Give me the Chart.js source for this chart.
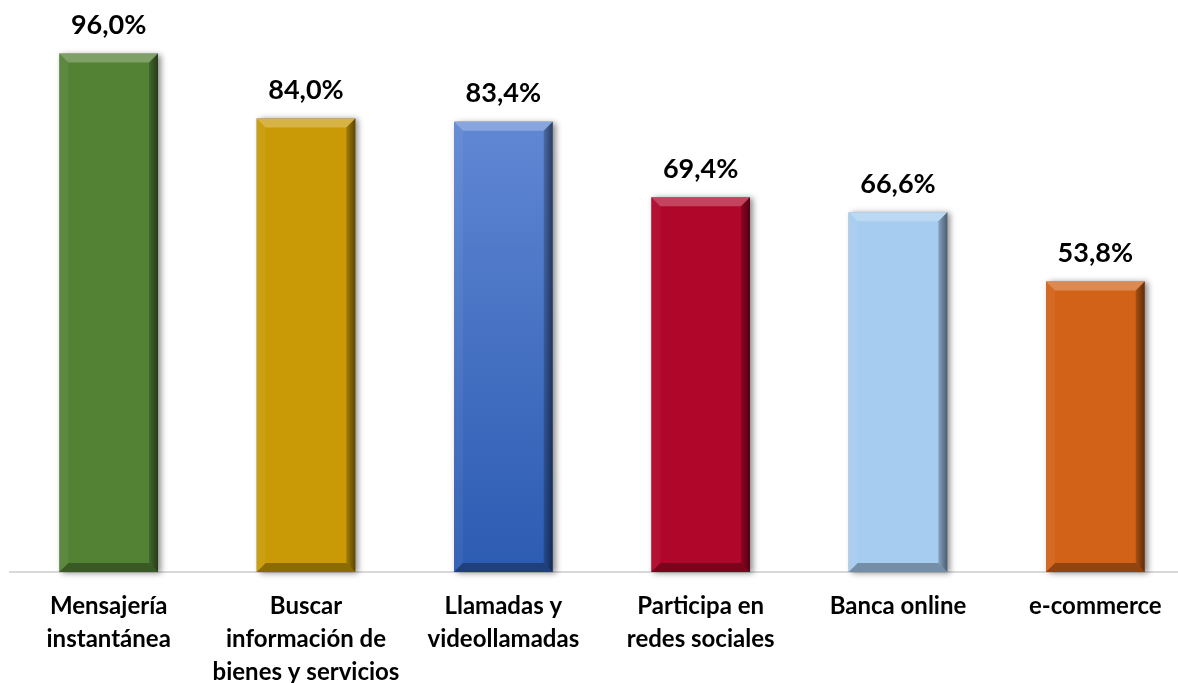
<!DOCTYPE html>
<html>
<head>
<meta charset="utf-8">
<script src="https://cdn.jsdelivr.net/npm/chart.js@4"></script>
<style>
  html, body { margin: 0; padding: 0; background: #fff; overflow: hidden; }
</style>
</head>
<body>
<canvas id="usos" width="1200" height="707"></canvas>
<script>
// categorías y porcentajes
const categories = [
  ['Mensajería', 'instantánea'],
  ['Buscar', 'información de', 'bienes y servicios'],
  ['Llamadas y', 'videollamadas'],
  ['Participa en', 'redes sociales'],
  ['Banca online'],
  ['e-commerce']
];
const values = [96.0, 84.0, 83.4, 69.4, 66.6, 53.8];
const barColors = ['#548235', '#C99A06', '#3E6DC4', '#B0062A', '#A6CCF0', '#D26218'];

const FONT = 'Lato, "Open Sans", sans-serif';

// bisel y sombra tipo Excel
const bevelPlugin = {
  id: 'bevel',
  beforeDatasetsDraw(chart) {
    const ctx = chart.ctx;
    chart.getDatasetMeta(0).data.forEach(bar => {
      const l = bar.x - bar.width / 2, t = bar.y;
      ctx.save();
      ctx.shadowColor = 'rgba(0,0,0,0.45)';
      ctx.shadowBlur = 6;
      ctx.shadowOffsetX = 3;
      ctx.shadowOffsetY = 1;
      ctx.fillStyle = '#888';
      ctx.fillRect(l, t, bar.width, bar.base - t);
      ctx.restore();
    });
  },
  afterDatasetsDraw(chart) {
    const ctx = chart.ctx;
    const b = 9;
    chart.getDatasetMeta(0).data.forEach(bar => {
      const l = bar.x - bar.width / 2, r = bar.x + bar.width / 2;
      const t = bar.y, bt = bar.base;
      const poly = (pts, fill) => {
        ctx.beginPath();
        ctx.moveTo(pts[0][0], pts[0][1]);
        pts.slice(1).forEach(p => ctx.lineTo(p[0], p[1]));
        ctx.closePath();
        ctx.fillStyle = fill;
        ctx.fill();
      };
      ctx.save();
      poly([[l, t], [r, t], [r - b, t + b], [l + b, t + b]], 'rgba(255,255,255,0.25)');
      poly([[l, t], [l + b, t + b], [l + b, bt - b], [l, bt]], 'rgba(255,255,255,0.05)');
      const g = ctx.createLinearGradient(r - b, 0, r, 0);
      g.addColorStop(0, 'rgba(0,0,0,0.2)');
      g.addColorStop(1, 'rgba(0,0,0,0.55)');
      poly([[r, t], [r, bt], [r - b, bt - b], [r - b, t + b]], g);
      poly([[l, bt], [l + b, bt - b], [r - b, bt - b], [r, bt]], 'rgba(0,0,0,0.3)');
      ctx.restore();
    });
  }
};

// etiquetas de valor encima de cada barra
const valueLabels = {
  id: 'valueLabels',
  afterDatasetsDraw(chart) {
    const ctx = chart.ctx;
    ctx.save();
    ctx.font = 'bold 27px ' + FONT;
    ctx.fillStyle = '#000';
    ctx.textAlign = 'center';
    ctx.textBaseline = 'middle';
    chart.getDatasetMeta(0).data.forEach((bar, i) => {
      ctx.fillText(values[i].toFixed(1).replace('.', ',') + '%', bar.x, bar.y - 28);
    });
    ctx.restore();
  }
};

const ctx = document.getElementById('usos').getContext('2d');
new Chart(ctx, {
  type: 'bar',
  data: {
    labels: categories,
    datasets: [{
      data: values,
      backgroundColor: (c) => {
        const i = c.dataIndex;
        if (i !== 2 || !c.chart.chartArea) return barColors[i];
        const a = c.chart.chartArea;
        const g = c.chart.ctx.createLinearGradient(0, a.top, 0, a.bottom);
        g.addColorStop(0, '#6A90DA');
        g.addColorStop(1, '#2C5BB2');
        return g;
      },
      borderWidth: 0,
      categoryPercentage: 1,
      barPercentage: 0.5
    }]
  },
  options: {
    responsive: false,
    animation: false,
    layout: { padding: { left: 10, right: 6, top: 32, bottom: 0 } },
    plugins: { legend: { display: false }, tooltip: { enabled: false } },
    scales: {
      y: {
        display: false,
        min: 0,
        max: 100
      },
      x: {
        grid: { display: false, drawTicks: false },
        border: { display: true, color: '#D9D9D9', width: 2 },
        ticks: {
          color: '#000',
          padding: 18,
          maxRotation: 0,
          autoSkip: false,
          font: { family: FONT, size: 24, weight: 'bold', lineHeight: 1.375 }
        }
      }
    }
  },
  plugins: [bevelPlugin, valueLabels]
});
</script>
</body>
</html>
